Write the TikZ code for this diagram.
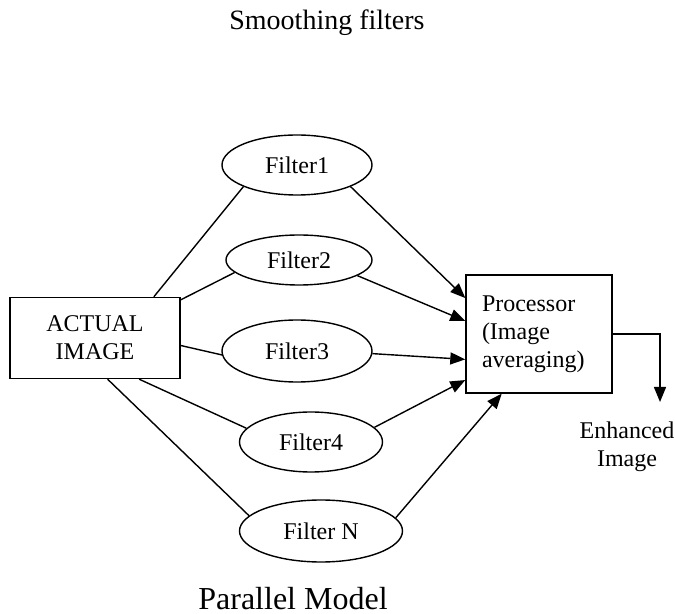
\documentclass[tikz,border=0pt]{standalone}
\usepackage{fontspec}
\setmainfont{Liberation Serif}
\usetikzlibrary{arrows.meta,shapes,positioning}

\begin{document}
\begin{tikzpicture}[x=0.5pt, y=-0.5pt, line width=0.7pt,
    filter/.style={ellipse, draw, inner sep=0pt, font=\fontsize{12}{14}\selectfont},
    box/.style={rectangle, draw, font=\fontsize{12}{14}\selectfont},
    arr/.style={-{Triangle[length=7.5pt,width=6pt]}}]
  \useasboundingbox (0,0) rectangle (675,614);
  % Title
  \node[anchor=base, font=\fontsize{14}{17}\selectfont] (title) at (327,30) {Smoothing filters};

  % Input image
  \node[box, minimum width=85pt, minimum height=40.5pt, align=center] (actual) at (95,338) {ACTUAL\\IMAGE};

  % Filters
  \node[filter, minimum width=75pt, minimum height=30pt] (f1) at (297,165) {Filter1};
  \node[filter, minimum width=73pt, minimum height=25pt] (f2) at (299,260) {Filter2};
  \node[filter, minimum width=75pt, minimum height=31pt] (f3) at (297,351) {Filter3};
  \node[filter, minimum width=71.5pt, minimum height=30pt] (f4) at (311,442) {Filter4};
  \node[filter, minimum width=81.5pt, minimum height=31pt] (fn) at (321,531) {Filter N};

  % Processor
  \node[box, align=left, text width=57pt, inner xsep=8pt, minimum height=59pt] (proc) at (539,334) {Processor\\(Image\\averaging)};

  % Output
  \node[align=center, font=\fontsize{12}{14}\selectfont] (enh) at (627,447) {Enhanced\\Image};
  \coordinate (outtip) at (660,402);

  % Image to filters
  \draw (actual.35) -- (f1.202);
  \draw (actual.24) -- (f2.191);
  \draw (actual.-5) -- (f3.183);
  \draw (actual.-43) -- (f4.168);
  \draw (actual.-73) -- (fn.168);

  % Filters to processor
  \draw[arr] (f1.-22) -- (proc.154);
  \draw[arr] (f2.-15) -- (proc.170);
  \draw[arr] (f3.-2) -- (proc.199);
  \draw[arr] (f4.13) -- (proc.212);
  \draw[arr] (fn.10) -- (proc.238);
  \draw[arr] (proc.east) -| (outtip);

  % Caption
  \node[anchor=base, font=\fontsize{16}{19}\selectfont] (model) at (293,610) {Parallel Model};
\end{tikzpicture}
\end{document}
